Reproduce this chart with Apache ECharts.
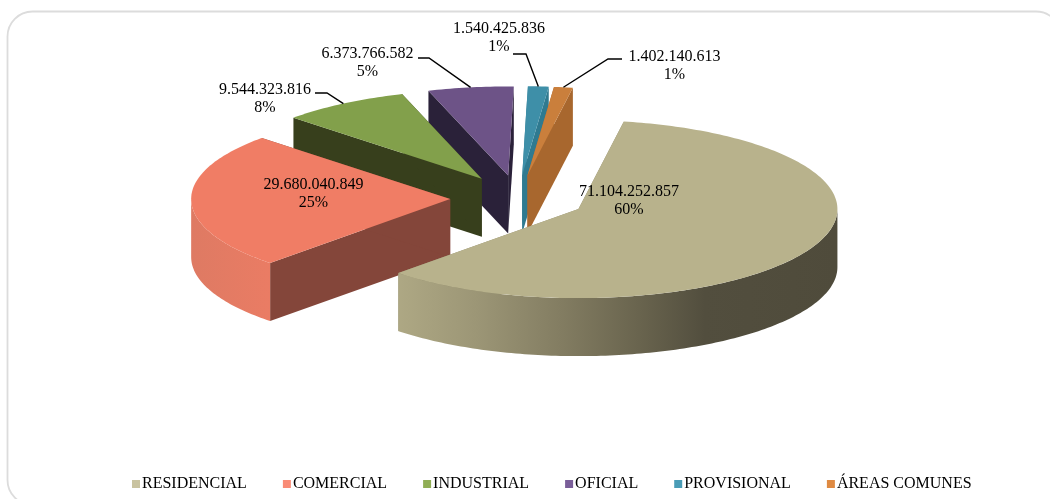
<!DOCTYPE html>
<html>
<head>
<meta charset="utf-8">
<title>Pie</title>
<script src="https://cdn.jsdelivr.net/npm/echarts@6/dist/echarts.min.js"></script>
<style>
html,body{margin:0;padding:0;background:#fff;}
#main{width:1050px;height:499px;}
</style>
</head>
<body>
<div id="main"></div>
<script>
var categories = ["RESIDENCIAL", "COMERCIAL", "INDUSTRIAL", "OFICIAL", "PROVISIONAL", "ÁREAS COMUNES"];
var values = [71104252857, 29680040849, 9544323816, 6373766582, 1540425836, 1402140613];
var percents = [60, 25, 8, 5, 1, 1];
var legendColors = ["#c9c3a0", "#f98b76", "#90ae55", "#7a5e99", "#4a9cb6", "#df8a42"];
var topColors = ["#b8b28c", "#f07d65", "#82a04b", "#6d5387", "#3e8fa8", "#ca7f3c"];
var faceColors = ["#8f8a6c", "#84463a", "#373f1c", "#2a2139", "#2f7a90", "#a8672e"];
// back to front
var drawOrder = [4, 5, 3, 2, 1, 0];
// label centres, and the elbow of the leader line (none for the two big ones)
var labelCenters = [[629, 201], [313.5, 194], [265, 99], [367.5, 63], [499, 38], [674.5, 66]];
var leaderElbows = [null, null, [[315, 93], [327, 93]], [[418, 58], [429, 58]], [[513, 54], [526, 54]], [[622, 59], [608, 59]]];

// pie geometry
var cx = 518, cy = 198.5, rx = 259, ry = 89, depth = 58, explode = 0.262, firstAngle = 10.1;
var font = "Liberation Serif";

var total = 0;
for (var t = 0; t < values.length; t++) total += values[t];

function toAngle(cum){
	return echarts.number.linearMap(cum, [0, total], [firstAngle, firstAngle + 360]);
}

// angle is clockwise from the top of the ellipse
function onEllipse(ox, oy, deg){
	var a = deg * Math.PI / 180;
	return [ox + rx * Math.sin(a), oy - ry * Math.cos(a)];
}

function formatValue(v){
	return String(v).replace(/\B(?=(\d{3})+(?!\d))/g, ".");
}

function sideFill(i){
	if (i === 0) {
		return new echarts.graphic.LinearGradient(397, 0, 837, 0, [
			{offset: 0, color: "#aea884"},
			{offset: 0.18, color: "#9c9676"},
			{offset: 0.37, color: "#837d62"},
			{offset: 0.55, color: "#69644e"},
			{offset: 0.7, color: "#524e3e"},
			{offset: 1, color: "#4f4b3b"}
		], true);
	}
	return new echarts.graphic.LinearGradient(190, 0, 270, 0, [
		{offset: 0, color: "#de7a63"},
		{offset: 1, color: "#ea7c64"}
	], true);
}

function renderSlice(i, value){
	var cum = 0;
	for (var k = 0; k < i; k++) cum += values[k];
	var start = toAngle(cum), end = toAngle(cum + value), mid = (start + end) / 2;
	var apex = onEllipse(cx, cy, mid);
	apex = [cx + (apex[0] - cx) * explode, cy + (apex[1] - cy) * explode];
	var ox = apex[0], oy = apex[1];
	var children = [];

	// the two cut faces
	[start, end].forEach(function(a){
		var p = onEllipse(ox, oy, a);
		children.push({
			type: "polygon",
			shape: {points: [[ox, oy], p, [p[0], p[1] + depth], [ox, oy + depth]]},
			style: {fill: faceColors[i]}
		});
	});

	// outer wall, only the front half of the ellipse shows
	var from = Math.max(start, 90), to = Math.min(end, 270);
	if (to > from) {
		var upper = [], lower = [];
		for (var d = from; d < to; d += 1) upper.push(onEllipse(ox, oy, d));
		upper.push(onEllipse(ox, oy, to));
		for (var u = upper.length - 1; u >= 0; u--) lower.push([upper[u][0], upper[u][1] + depth]);
		children.push({
			type: "polygon",
			shape: {points: upper.concat(lower)},
			style: {fill: sideFill(i)}
		});
	}

	// top of the slice
	var top = [[ox, oy]];
	for (var b = start; b < end; b += 1) top.push(onEllipse(ox, oy, b));
	top.push(onEllipse(ox, oy, end));
	children.push({type: "polygon", shape: {points: top}, style: {fill: topColors[i]}});

	if (leaderElbows[i]) {
		children.push({
			type: "polyline",
			shape: {points: leaderElbows[i].concat([onEllipse(ox, oy, mid)])},
			style: {stroke: "#000", lineWidth: 1.4, fill: null}
		});
	}

	children.push({
		type: "text",
		style: {
			text: formatValue(value) + "\n" + percents[i] + "%",
			x: labelCenters[i][0],
			y: labelCenters[i][1],
			align: "center",
			verticalAlign: "middle",
			fontFamily: font,
			fontSize: 16,
			lineHeight: 18.5,
			fill: "#000"
		}
	});
	return {type: "group", children: children};
}

var series = [];
drawOrder.forEach(function(i){
	series.push({
		type: "custom",
		name: categories[i],
		coordinateSystem: "none",
		silent: true,
		animation: false,
		itemStyle: {color: legendColors[i]},
		data: [[values[i]]],
		renderItem: function(params, api){
			return renderSlice(i, api.value(0));
		}
	});
});

echarts.init(document.getElementById("main")).setOption({
	animation: false,
	graphic: [{
		type: "rect",
		silent: true,
		z: -1,
		// right and bottom sides run off the page, as in the original
		shape: {x: 7.5, y: 11.5, width: 1053.5, height: 493.5, r: 25},
		style: {fill: "#fff", stroke: "#dcdcdc", lineWidth: 1.8}
	}],
	legend: {
		data: categories,
		left: 132,
		top: 476,
		icon: "rect",
		itemWidth: 8,
		itemHeight: 8,
		itemGap: 36,
		padding: 0,
		selectedMode: false,
		textStyle: {fontFamily: font, fontSize: 16, color: "#000", padding: [0, 0, 0, -3]}
	},
	series: series
});
</script>
</body>
</html>
